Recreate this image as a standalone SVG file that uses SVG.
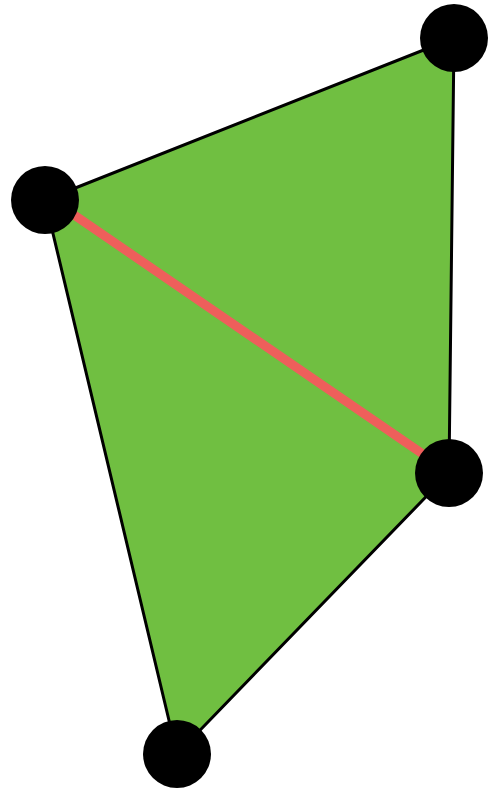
<svg xmlns="http://www.w3.org/2000/svg" width="489" height="793" viewBox="0 0 489 793">
<style>
.face{fill:#70bf41;stroke:#000;stroke-width:3;stroke-linejoin:round}
.edge{stroke:#ee5f5b;stroke-width:9;stroke-linecap:round}
.vtx{fill:#000}
</style>
<rect width="489" height="793" fill="#fff"/>
<g id="face"><polygon class="face" points="454,38 45,200 177,754 449,473"/></g>
<g id="connectors"><line class="edge" x1="45" y1="195" x2="449" y2="472"/></g>
<g id="v1"><circle class="vtx" cx="454" cy="38" r="34"/></g>
<g id="v2"><circle class="vtx" cx="45" cy="200" r="34"/></g>
<g id="v3"><circle class="vtx" cx="449" cy="473" r="34"/></g>
<g id="v4"><circle class="vtx" cx="177" cy="754" r="34"/></g>
</svg>
